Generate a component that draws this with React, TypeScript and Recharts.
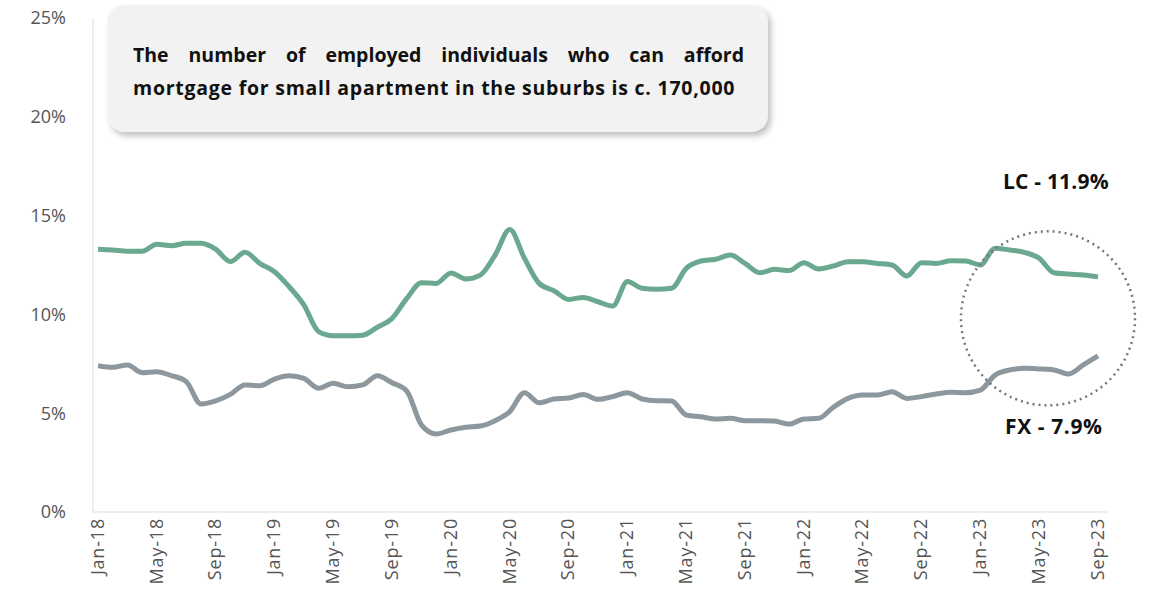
import { useEffect } from 'react';
import { LineChart, Line, XAxis, YAxis, ReferenceDot } from 'recharts';

const monthNames = ['Jan', 'Feb', 'Mar', 'Apr', 'May', 'Jun', 'Jul', 'Aug', 'Sep', 'Oct', 'Nov', 'Dec'];
const years = ['18', '19', '20', '21', '22', '23'];
const months: string[] = years.flatMap((y) => monthNames.map((m) => `${m}-${y}`)).slice(0, 69);

const lcValues = [
    13.3, 13.26, 13.2, 13.2, 13.55, 13.48, 13.6, 13.6, 13.3, 12.67,
    13.14, 12.58, 12.16, 11.4, 10.48, 9.13, 8.92, 8.92, 8.95, 9.35,
    9.8, 10.81, 11.6, 11.57, 12.1, 11.79, 11.99, 13.0, 14.3, 12.84,
    11.57, 11.2, 10.76, 10.86, 10.64, 10.42, 11.66, 11.32, 11.27, 11.32,
    12.33, 12.7, 12.79, 13.0, 12.58, 12.11, 12.28, 12.22, 12.62, 12.3,
    12.45, 12.67, 12.67, 12.58, 12.5, 11.94, 12.62, 12.58, 12.72, 12.7,
    12.5, 13.35, 13.26, 13.14, 12.84, 12.11, 12.04, 11.99, 11.9,
];

const fxValues = [
    7.4, 7.32, 7.44, 7.05, 7.1, 6.9, 6.6, 5.47, 5.62, 5.95,
    6.43, 6.39, 6.73, 6.9, 6.76, 6.26, 6.51, 6.34, 6.43, 6.9,
    6.54, 6.12, 4.4, 3.95, 4.15, 4.29, 4.35, 4.62, 5.08, 6.04,
    5.53, 5.72, 5.77, 5.95, 5.7, 5.84, 6.04, 5.72, 5.63, 5.62,
    4.91, 4.82, 4.71, 4.74, 4.62, 4.62, 4.6, 4.45, 4.71, 4.74,
    5.3, 5.75, 5.92, 5.92, 6.09, 5.75, 5.84, 5.97, 6.06, 6.04,
    6.17, 6.93, 7.19, 7.27, 7.24, 7.19, 6.98, 7.44, 7.9,
];

const noteLines = [
    'The number of employed individuals who can afford',
    'mortgage for small apartment in the suburbs is c. 170,000',
];

const xTicks = months.map((_, i) => i).filter((i) => i % 4 === 0);
const yTicks = [0, 5, 10, 15, 20, 25];

const data = months.map((m, i) => ({ i, month: m, lc: lcValues[i], fx: fxValues[i] }));

const font = '"Open Sans", Lato, sans-serif';

export default function App() {
    useEffect(() => {
        document.body.style.margin = '0';
    }, []);

    return (
        <div style={{ position: 'relative', width: 1153, height: 601, fontFamily: font, background: '#fff' }}>
            <LineChart width={1153} height={601} data={data} margin={{ top: 18, right: 46, bottom: 0, left: 0 }}>
                <XAxis
                    dataKey="i"
                    type="number"
                    domain={[0, 68]}
                    ticks={xTicks}
                    tickFormatter={(i) => months[i]}
                    interval={0}
                    height={89}
                    padding={{ left: 5, right: 9 }}
                    stroke="#dcdcdc"
                    tickLine={false}
                    angle={-90}
                    textAnchor="end"
                    dy={-2}
                    dx={-7}
                    tick={{ fontSize: 18, fill: '#555', fontFamily: font, letterSpacing: 0.8 }}
                />
                <YAxis
                    domain={[0, 25]}
                    ticks={yTicks}
                    tickFormatter={(v) => `${v}%`}
                    width={93}
                    stroke="#dcdcdc"
                    tickLine={false}
                    tickMargin={21}
                    tick={{ fontSize: 18, fill: '#555', fontFamily: font }}
                />
                <Line type="monotone" dataKey="lc" stroke="#6aa88f" strokeWidth={5} dot={false} isAnimationActive={false} />
                <Line type="monotone" dataKey="fx" stroke="#8c979e" strokeWidth={5} dot={false} isAnimationActive={false} />
                <ReferenceDot x={64.6} y={9.8} r={87} fill="none" stroke="#777" strokeWidth={2.5} strokeDasharray="2 4" />
            </LineChart>

            <div style={{
                position: 'absolute', left: 108, top: 5, width: 660, height: 127, boxSizing: 'border-box',
                background: '#f2f2f2', borderRadius: 16, boxShadow: '3px 4px 6px rgba(0,0,0,0.25)',
                padding: '33px 24px 0 25px', fontWeight: 700, fontSize: 19.5, lineHeight: '33px', color: '#111',
                whiteSpace: 'nowrap', letterSpacing: 0.75,
            }}>
                <div style={{ textAlign: 'justify', textAlignLast: 'justify', whiteSpace: 'normal', letterSpacing: 0 }}>{noteLines[0]}</div>
                <div>{noteLines[1]}</div>
            </div>

            <div style={{ position: 'absolute', left: 1003, top: 167, fontWeight: 700, fontSize: 21, letterSpacing: 0.2, color: '#111' }}>LC - 11.9%</div>
            <div style={{ position: 'absolute', left: 1005, top: 412, fontWeight: 700, fontSize: 21, letterSpacing: 0.6, color: '#111' }}>FX - 7.9%</div>
        </div>
    );
}
